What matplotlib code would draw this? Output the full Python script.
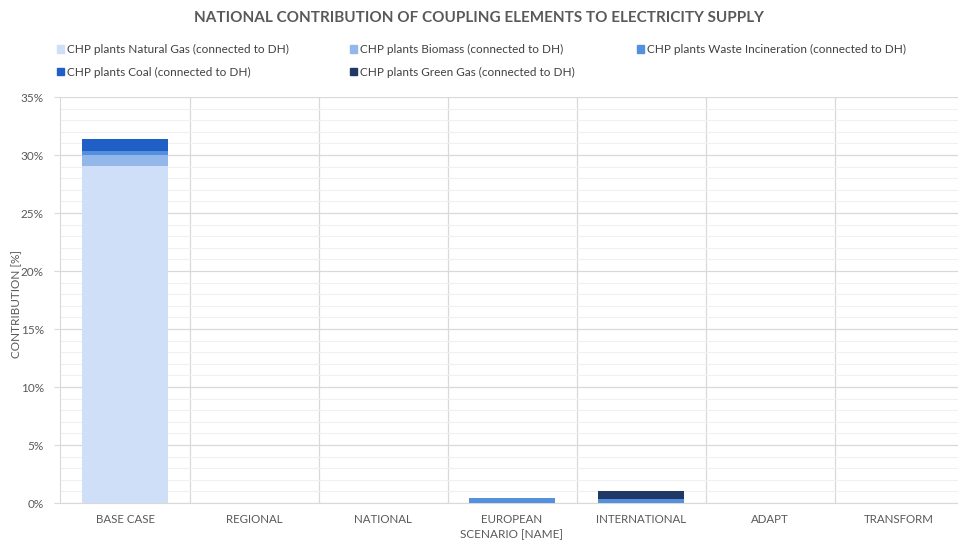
import matplotlib
matplotlib.use("Agg")
import matplotlib.pyplot as plt
from matplotlib.patches import Rectangle
from matplotlib.ticker import MultipleLocator, PercentFormatter
import numpy as np

plt.rcParams['font.family'] = ['Lato', 'DejaVu Sans']

scenarios = ['BASE CASE', 'REGIONAL', 'NATIONAL', 'EUROPEAN', 'INTERNATIONAL', 'ADAPT', 'TRANSFORM']

series_names = [
    'CHP plants Natural Gas (connected to DH)',
    'CHP plants Biomass (connected to DH)',
    'CHP plants Waste Incineration (connected to DH)',
    'CHP plants Coal (connected to DH)',
    'CHP plants Green Gas (connected to DH)',
]
series_colors = ['#cfdff7', '#93b7eb', '#5590df', '#1f5fc6', '#1f3864']

# contribution in percent per scenario
natural_gas = [29.05, 0, 0, 0, 0, 0, 0]
biomass = [0.95, 0, 0, 0, 0, 0, 0]
waste = [0.35, 0, 0, 0.43, 0.35, 0, 0]
coal = [1.05, 0, 0, 0, 0, 0, 0]
green_gas = [0, 0, 0, 0, 0.68, 0, 0]

series = [natural_gas, biomass, waste, coal, green_gas]

fig = plt.figure(figsize=(9.58, 5.42), dpi=100)
ax = fig.add_axes([60.5 / 958, 39 / 542, 903 / 958, 406 / 542])

x = np.arange(len(scenarios))
bottom = np.zeros(len(scenarios))
for vals, color in zip(series, series_colors):
    ax.bar(x, vals, bottom=bottom, width=0.67, color=color, zorder=3)
    bottom += np.array(vals)

ax.set_xlim(-0.5, len(scenarios) - 0.5)
ax.set_ylim(0, 35)
ax.yaxis.set_major_locator(MultipleLocator(5))
ax.yaxis.set_minor_locator(MultipleLocator(1))
ax.yaxis.set_major_formatter(PercentFormatter(decimals=0))
ax.grid(which='major', axis='y', color='#d9d9d9', lw=0.9, zorder=0)
ax.grid(which='minor', axis='y', color='#f0f0f0', lw=0.8, zorder=0)
for b in np.arange(0.5, len(scenarios) - 0.5, 1):
    ax.axvline(b, color='#d9d9d9', lw=0.9, zorder=0)

ax.set_xticks(x)
ax.set_xticklabels(scenarios, fontsize=8.3, color='#595959')
ax.tick_params(axis='x', length=0, pad=8)
ax.tick_params(axis='y', which='both', length=0, labelsize=8.5, labelcolor='#595959', pad=8)
ax.tick_params(axis='y', which='major', length=4, color='#d9d9d9')
for s in ['top', 'right']:
    ax.spines[s].set_visible(False)
ax.spines['left'].set_color('#d9d9d9')
ax.spines['bottom'].set_color('#d9d9d9')

ax.set_ylabel('CONTRIBUTION [%]', fontsize=8.5, color='#595959')
ax.yaxis.set_label_coords(-0.043, 0.49)
ax.set_xlabel('SCENARIO [NAME]', fontsize=8.5, color='#595959')
ax.xaxis.set_label_coords(0.5, -0.065)

fig.text(0.5, 1 - 18 / 542, 'NATIONAL CONTRIBUTION OF COUPLING ELEMENTS TO ELECTRICITY SUPPLY',
         ha='center', va='center', fontsize=11, fontweight='bold', color='#595959')

# legend entries laid out in rows of three
legend_pos = [(57, 49), (350, 49), (637, 49), (57, 72), (350, 72)]
for name, color, (px, py) in zip(series_names, series_colors, legend_pos):
    fig.patches.append(Rectangle((px / 958, 1 - (py + 3.5) / 542), 7 / 958, 7 / 542,
                                 transform=fig.transFigure, color=color, figure=fig))
    fig.text((px + 10) / 958, 1 - py / 542, name, ha='left', va='center',
             fontsize=8.5, color='#404040')

fig.savefig('out.png', dpi=100)
